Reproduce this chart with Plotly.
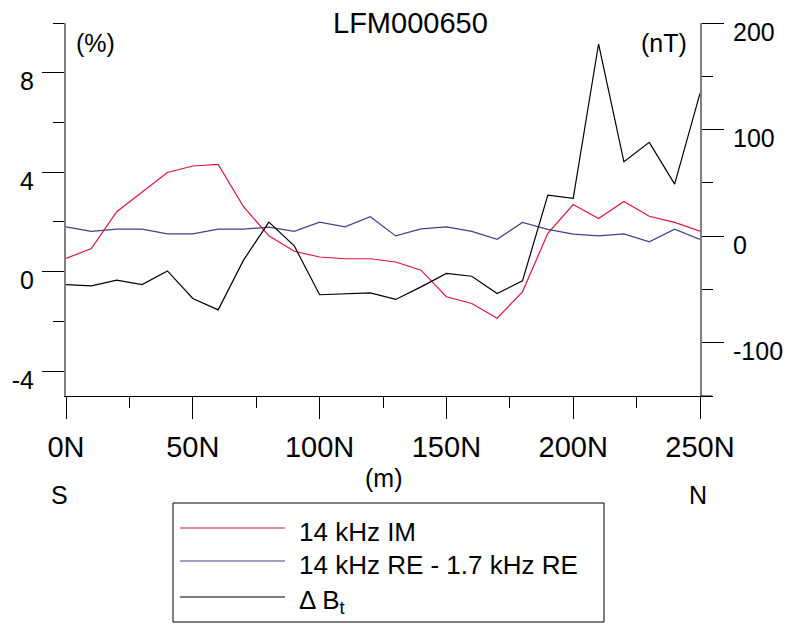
import plotly.graph_objects as go

# ---- data ----
dist = [0, 10, 20, 30, 40, 50, 60, 70, 80, 90, 100, 110, 120, 130, 140, 150,
        160, 170, 180, 190, 200, 210, 220, 230, 240, 250]
im14 = [0.53, 0.93, 2.41, 3.21, 3.99, 4.25, 4.31, 2.61, 1.44, 0.82, 0.59, 0.52,
        0.52, 0.39, 0.06, -1.01, -1.28, -1.87, -0.81, 1.54, 2.70, 2.14, 2.82,
        2.23, 1.98, 1.63]
re_diff = [1.80, 1.62, 1.71, 1.71, 1.52, 1.52, 1.71, 1.71, 1.79, 1.62, 1.99, 1.80,
           2.21, 1.44, 1.72, 1.80, 1.62, 1.30, 1.98, 1.70, 1.51, 1.44, 1.52, 1.20,
           1.71, 1.30]
dbt = [-45.4, -46.6, -41.3, -45.4, -32.6, -58.5, -69.2, -22.5, 13.1, -9.1, -55.0,
       -53.8, -53.2, -59.4, -47.6, -35.0, -37.6, -53.8, -42.0, 38.5, 35.4, 180.3,
       69.8, 88.0, 48.8, 134.0]

x_tickvals = [0, 50, 100, 150, 200, 250]
x_ticktext = ["0N", "50N", "100N", "150N", "200N", "250N"]
y1_tickvals = [-4, 0, 4, 8]
y1_ticktext = ["-4", "0", "4", "8"]
y1_minorvals = [-2, 2, 6, 10]
y2_tickvals = [-100, 0, 100, 200]
y2_ticktext = ["-100", "0", "100", "200"]
y2_minorvals = [-150, -50, 50, 150]
x_minorvals = [25, 75, 125, 175, 225]

series_names = ["14 kHz IM", "14 kHz RE - 1.7 kHz RE", "\u0394 B<sub>t</sub>"]
series_colors = ["#dc143c", "#483d8b", "#000000"]
title_text = "LFM000650"

# ---- layout geometry (pixels) ----
W, H = 792, 624
L, R, T, B = 66, 92, 23, 228
PW, PH = W - L - R, H - T - B
FONT = "Arial, Liberation Sans, sans-serif"


def px(x):
    return (x - L) / PW


def py(y):
    return (H - B - y) / PH


fig = go.Figure()
fig.add_trace(go.Scatter(x=dist, y=im14, mode="lines", line=dict(color=series_colors[0], width=1.2),
                         showlegend=False, yaxis="y"))
fig.add_trace(go.Scatter(x=dist, y=re_diff, mode="lines", line=dict(color=series_colors[1], width=1.2),
                         showlegend=False, yaxis="y"))
fig.add_trace(go.Scatter(x=dist, y=dbt, mode="lines", line=dict(color=series_colors[2], width=1.2),
                         showlegend=False, yaxis="y2"))

axis_gray = "#7f7f7f"

fig.update_layout(
    width=W, height=H,
    margin=dict(l=L, r=R, t=T, b=B, autoexpand=False),
    paper_bgcolor="white", plot_bgcolor="white",
    font=dict(family=FONT, color="black"),
    xaxis=dict(range=[0, 250], showgrid=False, zeroline=False,
               showline=True, linecolor="black", linewidth=1,
               ticks="outside", ticklen=22, tickcolor="black", tickwidth=1,
               tickmode="array", tickvals=x_tickvals, ticktext=x_ticktext,
               minor=dict(ticks="outside", ticklen=11, tickmode="array", tickvals=x_minorvals,
                          tickcolor="black", showgrid=False),
               tickfont=dict(size=29, family=FONT), ticklabelstandoff=3),
    yaxis=dict(range=[-5, 10], showgrid=False, zeroline=False,
               showline=True, linecolor=axis_gray, linewidth=2,
               ticks="outside", ticklen=22, tickcolor="black", tickwidth=1,
               tickmode="array", tickvals=y1_tickvals, ticktext=y1_ticktext,
               minor=dict(ticks="outside", ticklen=11, tickmode="array", tickvals=y1_minorvals,
                          tickcolor="black", showgrid=False),
               tickfont=dict(size=25, family=FONT),
               ticklabelstandoff=3, ticklabelshift=9),
    yaxis2=dict(range=[-150, 200], overlaying="y", side="right", showgrid=False, zeroline=False,
                showline=True, linecolor=axis_gray, linewidth=2,
                ticks="outside", ticklen=22, tickcolor="black", tickwidth=1,
                tickmode="array", tickvals=y2_tickvals, ticktext=y2_ticktext,
                minor=dict(ticks="outside", ticklen=11, tickmode="array", tickvals=y2_minorvals,
                           tickcolor="black", showgrid=False),
                tickfont=dict(size=25, family=FONT),
                ticklabelstandoff=4, ticklabelshift=9),
)

shapes = []
annotations = []

# extension of bottom axis line to the right
shapes.append(dict(type="line", xref="paper", yref="paper", x0=px(700), x1=px(712), y0=0, y1=0,
                   line=dict(color="black", width=1)))


def text(s, x, y, size, xanchor="center"):
    annotations.append(dict(text=s, x=px(x), y=py(y), xref="paper", yref="paper", showarrow=False,
                            xanchor=xanchor, yanchor="middle", font=dict(size=size, family=FONT, color="black")))


text(title_text, 411, 23, 29)
text("(%)", 95, 43, 25)
text("(nT)", 664, 43, 25)
text("(m)", 383, 478, 25)
text("S", 59, 495, 25)
text("N", 698, 495, 25)

# custom legend
shapes.append(dict(type="rect", xref="paper", yref="paper", x0=px(173), x1=px(604), y0=py(503), y1=py(622),
                   line=dict(color="black", width=1), fillcolor="white"))
leg_y = [528, 561, 597]
for name, col, yy in zip(series_names, series_colors, leg_y):
    shapes.append(dict(type="line", xref="paper", yref="paper", x0=px(180), x1=px(285), y0=py(yy), y1=py(yy),
                       line=dict(color=col, width=1.2)))
    text(name, 297, yy + 4, 26, xanchor="left")

fig.update_layout(shapes=shapes, annotations=annotations)

fig.write_html("out.html")
